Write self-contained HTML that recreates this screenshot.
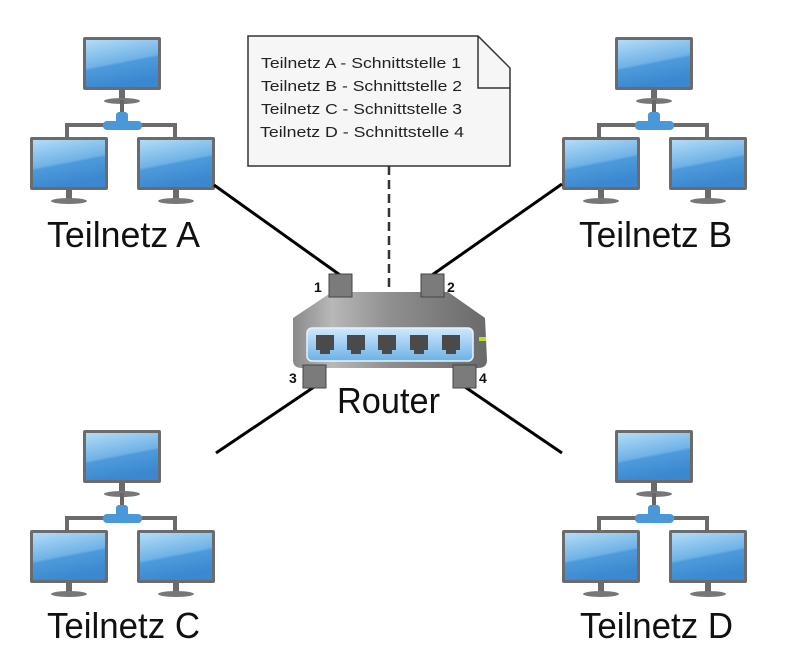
<!DOCTYPE html>
<html><head><meta charset="utf-8"><style>
html,body{margin:0;padding:0;background:#fff;}
svg{display:block;}
</style></head><body>
<svg width="803" height="665" viewBox="0 0 803 665" xmlns="http://www.w3.org/2000/svg">
<defs>
<linearGradient id="scr" x1="0" y1="0" x2="0.3" y2="1">
<stop offset="0" stop-color="#b3dcf7"/><stop offset="0.55" stop-color="#6fb2e6"/><stop offset="0.6" stop-color="#4d9adb"/><stop offset="1" stop-color="#3b88d0"/>
</linearGradient>
<linearGradient id="body" x1="0" y1="0" x2="1" y2="0">
<stop offset="0" stop-color="#8a8a8a"/><stop offset="0.2" stop-color="#b8b8b8"/><stop offset="0.5" stop-color="#8f8f8f"/><stop offset="1" stop-color="#6a6a6a"/>
</linearGradient>
<linearGradient id="panel" x1="0" y1="0" x2="0" y2="1">
<stop offset="0" stop-color="#cfe9fb"/><stop offset="0.5" stop-color="#9dcdf2"/><stop offset="1" stop-color="#6cb1e6"/>
</linearGradient>
<g id="mon">
<rect x="0" y="0" width="78" height="53" rx="2" fill="#6b6b6b"/>
<rect x="3" y="3" width="72" height="47" fill="url(#scr)"/>
<rect x="36" y="53" width="6" height="10" fill="#6b6b6b"/>
<ellipse cx="39" cy="64" rx="18" ry="3" fill="#777"/>
</g>
<g id="net">
<use href="#mon" x="83" y="37"/>
<rect x="120" y="100" width="4" height="14" fill="#666"/>
<polyline points="67,139 67,125 175,125 175,139" fill="none" stroke="#6b6b6b" stroke-width="4"/>
<rect x="103" y="121" width="39" height="9" rx="4" fill="#4a98d8"/>
<rect x="116" y="112" width="12" height="14" rx="3" fill="#4a98d8"/>
<use href="#mon" x="30" y="137"/>
<use href="#mon" x="137" y="137"/>
</g>
</defs>

<use href="#net" x="0" y="0"/>
<use href="#net" x="532" y="0"/>
<use href="#net" x="0" y="393"/>
<use href="#net" x="532" y="393"/>

<g stroke="#000" stroke-width="3" fill="none">
<line x1="214" y1="185" x2="340" y2="275"/>
<line x1="562" y1="184" x2="432" y2="275"/>
<line x1="216" y1="453" x2="314" y2="387"/>
<line x1="562" y1="453" x2="465" y2="387"/>
</g>
<line x1="389" y1="166" x2="389" y2="290" stroke="#333" stroke-width="2.5" stroke-dasharray="9,5"/>

<path d="M248,36 L478,36 L510,68 L510,166 L248,166 Z" fill="#f6f6f6" stroke="#333" stroke-width="1.5"/>
<path d="M478,36 L478,88 L510,88" fill="none" stroke="#333" stroke-width="1.5"/>
<g font-family="Liberation Sans, sans-serif" font-size="14.5" fill="#222">
<text x="261" y="68" textLength="200" lengthAdjust="spacingAndGlyphs">Teilnetz A - Schnittstelle 1</text>
<text x="261" y="91" textLength="201" lengthAdjust="spacingAndGlyphs">Teilnetz B - Schnittstelle 2</text>
<text x="261" y="114" textLength="201" lengthAdjust="spacingAndGlyphs">Teilnetz C - Schnittstelle 3</text>
<text x="260" y="137" textLength="204" lengthAdjust="spacingAndGlyphs">Teilnetz D - Schnittstelle 4</text>
</g>

<path d="M332,292 L448,292 L485,318 L487,360 Q487,368 478,368 L302,368 Q293,368 293,360 L293,318 Z" fill="url(#body)"/>
<rect x="307" y="328" width="166" height="33" rx="5" fill="url(#panel)" stroke="#e5f3fd" stroke-width="1.5"/>
<g fill="#4a4a4a">
<path d="M316,335 h18 v15 h-4 v4 h-10 v-4 h-4 z"/>
<path d="M347,335 h18 v15 h-4 v4 h-10 v-4 h-4 z"/>
<path d="M378,335 h18 v15 h-4 v4 h-10 v-4 h-4 z"/>
<path d="M410,335 h18 v15 h-4 v4 h-10 v-4 h-4 z"/>
<path d="M442,335 h18 v15 h-4 v4 h-10 v-4 h-4 z"/>
</g>
<rect x="479" y="337" width="7" height="4" fill="#b7e31c"/>

<g fill="#7b7b7b" stroke="#444" stroke-width="1">
<rect x="329" y="274" width="23" height="23"/>
<rect x="421" y="274" width="23" height="23"/>
<rect x="303" y="365" width="23" height="23"/>
<rect x="453" y="365" width="23" height="23"/>
</g>
<g font-family="Liberation Sans, sans-serif" font-size="14" font-weight="bold" fill="#111">
<text x="314" y="292">1</text>
<text x="447" y="292">2</text>
<text x="289" y="383">3</text>
<text x="479" y="383">4</text>
</g>

<g font-family="Liberation Sans, sans-serif" font-size="36" fill="#111">
<text x="47" y="247" textLength="153" lengthAdjust="spacingAndGlyphs">Teilnetz A</text>
<text x="579" y="247" textLength="153" lengthAdjust="spacingAndGlyphs">Teilnetz B</text>
<text x="47" y="638" textLength="153" lengthAdjust="spacingAndGlyphs">Teilnetz C</text>
<text x="580" y="638" textLength="153" lengthAdjust="spacingAndGlyphs">Teilnetz D</text>
<text x="337" y="413" textLength="103" lengthAdjust="spacingAndGlyphs">Router</text>
</g>
</svg>
</body></html>
